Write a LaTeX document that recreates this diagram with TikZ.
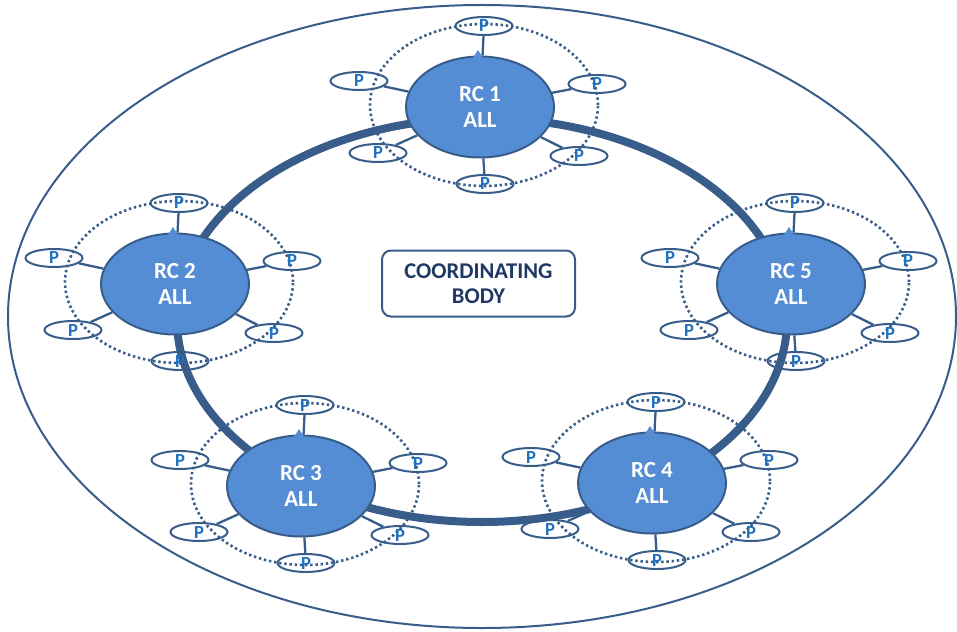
\documentclass[tikz,border=0pt]{standalone}
\usepackage{fontspec}
\setmainfont{Carlito}
\usetikzlibrary{shapes.geometric}
\definecolor{edge}{RGB}{56,93,138}
\definecolor{rcfill}{RGB}{84,141,212}
\definecolor{pblue}{RGB}{31,112,193}
\definecolor{navy}{RGB}{31,56,100}
\begin{document}
\begin{tikzpicture}[x=1pt,y=-1pt,
  rc/.style={ellipse, draw=edge, line width=2pt, fill=rcfill, minimum width=148pt, minimum height=101pt, inner sep=0pt, text=white, font=\fontsize{23}{26}\selectfont\bfseries, align=center},
  pnode/.style={ellipse, draw=edge, line width=2pt, minimum width=57pt, minimum height=18pt, inner sep=0pt, text=pblue, font=\fontsize{18.5}{18}\selectfont\bfseries},
  link/.style={draw=edge, line width=2.3pt},
  orbit/.style={draw=edge, line width=2.6pt, dash pattern=on 2.4pt off 2.8pt},
  ring/.style={draw=edge, line width=8pt},
  boundary/.style={draw=edge, line width=2pt},
  cbox/.style={draw=edge, line width=2pt, rounded corners=9pt, minimum width=193pt, minimum height=66pt, inner sep=0pt, font=\fontsize{22.5}{25}\selectfont\bfseries, text=navy, align=center}]
\useasboundingbox (0,0) rectangle (957,631);
% outer boundary
\draw[boundary] (482,316.5) ellipse [x radius=474pt, y radius=311.5pt];
% ring
\draw[ring] (482,320) ellipse [x radius=305pt, y radius=202pt];
% orbits
\foreach \i/\x/\y in {1/480/107, 2/175/284, 3/301/486, 4/652/483, 5/791/284} {
  \draw[orbit] (\x+4,\y-2) ellipse [x radius=114pt, y radius=81pt];
}
% RC nodes
\foreach \i/\x/\y in {1/480/107, 2/175/284, 3/301/486, 4/652/483, 5/791/284} {
  \node[rc] (rc\i) at (\x,\y) {RC \i\\ALL};
  \fill[rcfill] (\x-2,\y-57) -- (\x+3,\y-49) -- (\x-7,\y-49) -- cycle;
  \node[pnode] (p\i a) at (\x+4,\y-81) {P};
  \node[pnode] (p\i b) at (\x-121,\y-26) {P};
  \node[pnode] (p\i c) at (\x+117,\y-23) {P};
  \node[pnode] (p\i d) at (\x-102,\y+46) {P};
  \node[pnode] (p\i e) at (\x+99,\y+49) {P};
  \node[pnode] (p\i f) at (\x+5,\y+77) {P};
  \foreach \k in {a,b,c,d,e,f} {
    \draw[link] (rc\i) -- (p\i\k);
  }
}
% coordinating body
\node[cbox] (cb) at (478.5,283.5) {COORDINATING\\BODY};
\end{tikzpicture}
\end{document}
